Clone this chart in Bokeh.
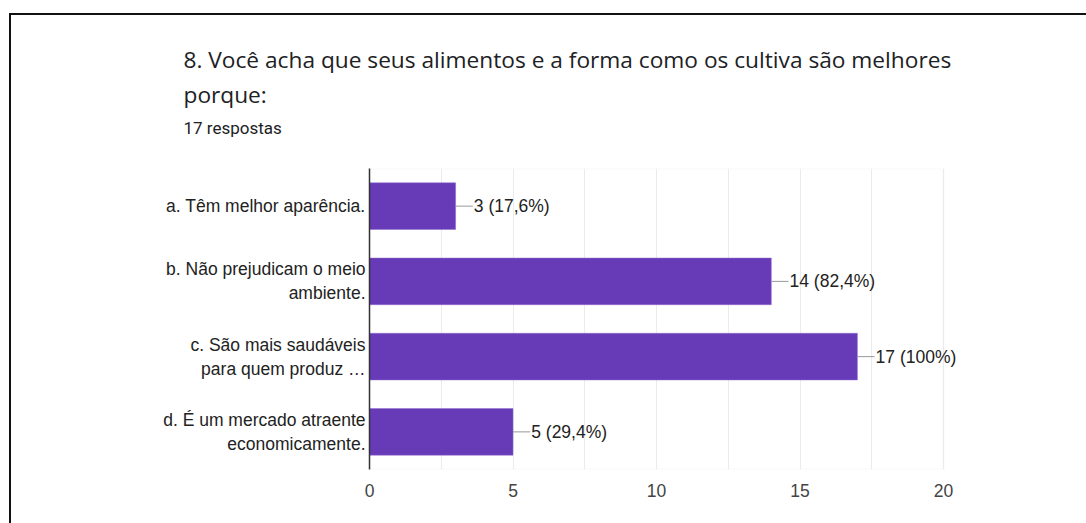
from bokeh.plotting import figure
from bokeh.models import (LabelSet, Title, FixedTicker, ColumnDataSource,
                          BoxAnnotation)
from bokeh.core.properties import value
from bokeh.embed import file_html
from bokeh.resources import INLINE

categories = [
    "a. Têm melhor aparência.",
    "b. Não prejudicam o meio\nambiente.",
    "c. São mais saudáveis\npara quem produz …",
    "d. É um mercado atraente\neconomicamente.",
]
counts = [3, 14, 17, 5]
percent_labels = ["3 (17,6%)", "14 (82,4%)", "17 (100%)", "5 (29,4%)"]
x_ticks = [0, 5, 10, 15, 20]
x_minor = [2.5, 7.5, 12.5, 17.5]
title_line1 = "8. Você acha que seus alimentos e a forma como os cultiva são melhores"
title_line2 = "porque:"
subtitle = "17 respostas"

BAR = "#673ab7"
GRID = "#ebebeb"

# plot frame geometry (pixels)
W, H = 1086, 523
FRAME_LEFT, AXIS_END_PX = 369, 943
x_max = x_ticks[-1] * (W - FRAME_LEFT) / (AXIS_END_PX - FRAME_LEFT)

p = figure(
    width=W, height=H,
    y_range=list(reversed(categories)),
    x_range=(0, x_max),
    output_backend="svg", toolbar_location=None,
    min_border_left=FRAME_LEFT, min_border_right=0,
    min_border_top=168, min_border_bottom=54,
)
p.background_fill_color = None
p.border_fill_color = None
p.styles = {
    "background-image": "linear-gradient(#111,#111), linear-gradient(#111,#111)",
    "background-size": "2px 100%, 100% 2px",
    "background-position": "9px 13px, 9px 13px",
    "background-repeat": "no-repeat",
}
p.outline_line_color = None

# light box around the value area (0..20)
p.add_layout(BoxAnnotation(left=x_ticks[0], right=x_ticks[-1], fill_color=None,
                           line_color=GRID, line_width=2, level="underlay"))

src = ColumnDataSource(dict(cat=categories, n=counts, lab=percent_labels,
                            x1=[c + 0.6 for c in counts]))
p.hbar(y="cat", right="n", left=0, height=0.62, source=src,
       fill_color=BAR, line_color="#8e6cd0", line_width=0.5)
p.segment(x0="n", y0="cat", x1="x1", y1="cat", source=src,
          line_color="#999999", line_width=1)
p.add_layout(LabelSet(x="x1", y="cat", text="lab", source=src, x_offset=1,
                      text_font=value("Liberation Sans"),
                      text_font_size=value("17.5px"),
                      text_color="#222222", text_baseline="middle",
                      text_align="left"))

# axes
xa = p.xaxis[0]
xa.ticker = FixedTicker(ticks=x_ticks, minor_ticks=x_minor)
xa.axis_line_color = None
xa.major_tick_line_color = None
xa.minor_tick_line_color = None
xa.major_label_text_font = "Liberation Sans"
xa.major_label_text_font_size = "17.5px"
xa.major_label_text_color = "#444444"
xa.major_label_standoff = 8

ya = p.yaxis[0]
ya.axis_line_color = "#333333"
ya.axis_line_width = 1.5
ya.major_tick_line_color = None
ya.minor_tick_line_color = None
ya.major_label_text_font = "Liberation Sans"
ya.major_label_text_font_size = "17.5px"
ya.major_label_text_color = "#222222"
ya.major_label_standoff = -2

p.ygrid.grid_line_color = None
p.xgrid.grid_line_color = GRID
p.xgrid.minor_grid_line_color = GRID

# spacer between frame and subtitle
p.add_layout(Title(text=" ", text_font_size="1px", standoff=26), "above")
# titles, stacked outward from the frame
for txt, size, font, standoff in [
    (subtitle, "17px", "Roboto", 4),
    (title_line2, "22.7px", "Open Sans", 7),
    (title_line1, "22.7px", "Open Sans", -3),
]:
    p.add_layout(Title(text=txt, align="left", offset=183 - FRAME_LEFT,
                       text_font=font, text_font_size=size,
                       text_font_style="normal", text_color="#202124",
                       standoff=standoff), "above")

open("out.html", "w").write(file_html(p, INLINE))
